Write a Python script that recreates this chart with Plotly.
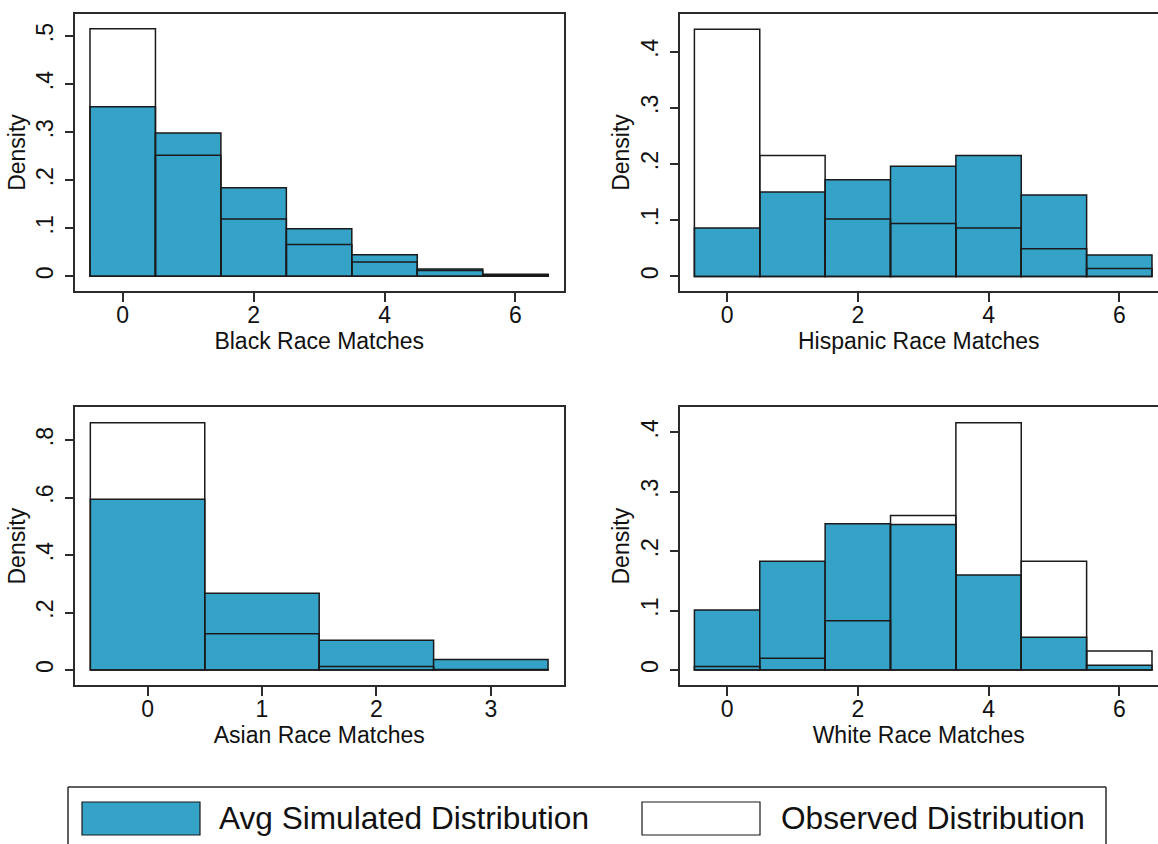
import plotly.graph_objects as go

# ---------------- data ----------------
black_bins = [0, 1, 2, 3, 4, 5, 6]
black_sim = [0.353, 0.298, 0.184, 0.099, 0.045, 0.015, 0.004]
black_obs = [0.515, 0.252, 0.119, 0.066, 0.030, 0.012, 0.003]

hisp_bins = [0, 1, 2, 3, 4, 5, 6]
hisp_sim = [0.086, 0.150, 0.172, 0.196, 0.215, 0.145, 0.038]
hisp_obs = [0.440, 0.215, 0.102, 0.094, 0.086, 0.049, 0.014]

asian_bins = [0, 1, 2, 3]
asian_sim = [0.594, 0.267, 0.104, 0.037]
asian_obs = [0.860, 0.126, 0.012, 0.002]

white_bins = [0, 1, 2, 3, 4, 5, 6]
white_sim = [0.101, 0.183, 0.246, 0.245, 0.160, 0.055, 0.008]
white_obs = [0.006, 0.020, 0.083, 0.260, 0.416, 0.183, 0.032]

titles = ["Black Race Matches", "Hispanic Race Matches",
          "Asian Race Matches", "White Race Matches"]
ytick_vals_1 = [0, 0.1, 0.2, 0.3, 0.4, 0.5]
ytick_text_1 = ["0", ".1", ".2", ".3", ".4", ".5"]
ytick_vals_2 = [0, 0.1, 0.2, 0.3, 0.4]
ytick_text_2 = ["0", ".1", ".2", ".3", ".4"]
ytick_vals_3 = [0, 0.2, 0.4, 0.6, 0.8]
ytick_text_3 = ["0", ".2", ".4", ".6", ".8"]
xtick_vals_7 = [0, 2, 4, 6]
xtick_vals_4 = [0, 1, 2, 3]
legend_names = ["Avg Simulated Distribution", "Observed Distribution"]

# ---------------- style ----------------
W, H = 1158, 844
BLUE = "#35A2C8"
EDGE = "#1a1a1a"
FRAME = "#2b2b2b"
FONT = "Arial, 'Liberation Sans', sans-serif"
FS = 23

def px_x(p):
    return p / W

def px_y(p):
    return 1 - p / H

panels = [
    dict(bins=black_bins, sim=black_sim, obs=black_obs, title=titles[0],
         xd=[px_x(75), px_x(563.5)], yd=[px_y(291), px_y(14)],
         xr=[-0.729, 6.734], yr=[-0.0306, 0.5458],
         yv=ytick_vals_1, yt=ytick_text_1, xv=xtick_vals_7, right=True),
    dict(bins=hisp_bins, sim=hisp_sim, obs=hisp_obs, title=titles[1],
         xd=[px_x(679.5), 1.0], yd=[px_y(291), px_y(14)],
         xr=[-0.728, 6.592], yr=[-0.026, 0.467],
         yv=ytick_vals_2, yt=ytick_text_2, xv=xtick_vals_7, right=False),
    dict(bins=asian_bins, sim=asian_sim, obs=asian_obs, title=titles[2],
         xd=[px_x(75), px_x(563.5)], yd=[px_y(685), px_y(407.3)],
         xr=[-0.634, 3.635], yr=[-0.052, 0.9137],
         yv=ytick_vals_3, yt=ytick_text_3, xv=xtick_vals_4, right=True),
    dict(bins=white_bins, sim=white_sim, obs=white_obs, title=titles[3],
         xd=[px_x(679.5), 1.0], yd=[px_y(685), px_y(407.3)],
         xr=[-0.728, 6.592], yr=[-0.0252, 0.442],
         yv=ytick_vals_2, yt=ytick_text_2, xv=xtick_vals_7, right=False),
]

fig = go.Figure()
layout = dict(
    width=W, height=H,
    margin=dict(l=0, r=0, t=0, b=0),
    paper_bgcolor="white", plot_bgcolor="white",
    font=dict(family=FONT, size=FS, color="#111"),
    barmode="overlay", showlegend=False,
)

for i, p in enumerate(panels):
    n = "" if i == 0 else str(i + 1)
    xa, ya = "x" + n, "y" + n
    fig.add_trace(go.Bar(
        x=p["bins"], y=p["sim"], width=1, name=legend_names[0],
        marker=dict(color=BLUE, line=dict(color=EDGE, width=1.5)),
        xaxis=xa, yaxis=ya, hoverinfo="x+y"))
    fig.add_trace(go.Bar(
        x=p["bins"], y=p["obs"], width=1, name=legend_names[1],
        marker=dict(color="rgba(0,0,0,0)", line=dict(color=EDGE, width=1.5)),
        xaxis=xa, yaxis=ya, hoverinfo="x+y"))
    layout["xaxis" + n] = dict(
        domain=p["xd"], range=p["xr"], anchor=ya,
        tickvals=p["xv"], ticktext=[str(v) for v in p["xv"]],
        ticks="outside", ticklen=9, tickwidth=1.5, tickcolor=FRAME,
        ticklabelstandoff=-6,
        showline=True, linecolor=FRAME, linewidth=1.5, mirror=True,
        showgrid=False, zeroline=False,
        tickfont=dict(size=FS), title=dict(text=p["title"], font=dict(size=FS), standoff=2),
    )
    layout["yaxis" + n] = dict(
        domain=p["yd"], range=p["yr"], anchor=xa,
        tickvals=p["yv"], ticktext=p["yt"], tickangle=-90,
        ticks="outside", ticklen=8, tickwidth=1.5, tickcolor=FRAME,
        ticklabelstandoff=3,
        showline=True, linecolor=FRAME, linewidth=1.5, mirror=p["right"],
        showgrid=False, zeroline=False,
        tickfont=dict(size=FS), title=dict(text="Density", font=dict(size=FS), standoff=0),
    )

# ---------------- legend (drawn) ----------------
shapes = []
lx0, lx1, ly_top = px_x(68), px_x(1106), px_y(787)
for (x0, y0, x1, y1) in [(lx0, ly_top, lx1, ly_top), (lx0, ly_top, lx0, 0),
                         (lx1, ly_top, lx1, 0)]:
    shapes.append(dict(type="line", xref="paper", yref="paper",
                       x0=x0, y0=y0, x1=x1, y1=y1,
                       line=dict(color=FRAME, width=1.5)))
shapes.append(dict(type="rect", xref="paper", yref="paper",
                   x0=px_x(82), x1=px_x(200), y0=px_y(835), y1=px_y(802),
                   fillcolor=BLUE, line=dict(color=EDGE, width=1.2)))
shapes.append(dict(type="rect", xref="paper", yref="paper",
                   x0=px_x(642), x1=px_x(760), y0=px_y(835), y1=px_y(802),
                   fillcolor="white", line=dict(color=EDGE, width=1.2)))
annotations = [
    dict(text=legend_names[0], xref="paper", yref="paper", x=px_x(217), y=px_y(818),
         xanchor="left", yanchor="middle", showarrow=False, font=dict(size=31.6)),
    dict(text=legend_names[1], xref="paper", yref="paper", x=px_x(779), y=px_y(818),
         xanchor="left", yanchor="middle", showarrow=False, font=dict(size=31.6)),
]
layout["shapes"] = shapes
layout["annotations"] = annotations

fig.update_layout(**layout)
fig.write_html("out.html", config={"displayModeBar": False},
               post_script="document.body.style.margin='0';document.body.style.overflow='hidden';")
